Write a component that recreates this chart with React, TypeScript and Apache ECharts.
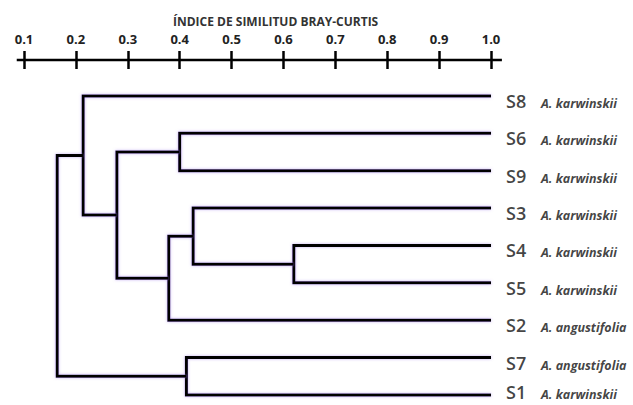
import React, { useEffect, useRef } from "react";
import * as echarts from "echarts";

const leaves = ["S8", "S6", "S9", "S3", "S4", "S5", "S2", "S7", "S1"];
const species = [
  "A. karwinskii",
  "A. karwinskii",
  "A. karwinskii",
  "A. karwinskii",
  "A. karwinskii",
  "A. karwinskii",
  "A. angustifolia",
  "A. angustifolia",
  "A. karwinskii",
];
// linkage: clusters 0..8 are leaves; merge k creates cluster 9+k
const mergeA = [1, 4, 3, 11, 9, 0, 7, 14];
const mergeB = [2, 5, 10, 6, 12, 13, 8, 15];
const mergeHeight = [0.4, 0.62, 0.426, 0.379, 0.279, 0.214, 0.413, 0.164];
const tickValues = [0.1, 1.0];
const axisTitle = "ÍNDICE DE SIMILITUD BRAY-CURTIS";

const Y_MIN = -0.963;
const Y_MAX = 8.134;

export default function App() {
  const ref = useRef<HTMLDivElement>(null);
  useEffect(() => {
    if (!ref.current) return;
    const chart = echarts.init(ref.current, null, { renderer: "svg" });

    const nodeX: number[] = leaves.map(() => 1.0);
    const nodeY: number[] = leaves.map((_, i) => i);
    const linesData: any[] = [];
    mergeA.forEach((a, k) => {
      const b = mergeB[k];
      const h = mergeHeight[k];
      linesData.push({
        coords: [
          [nodeX[a], nodeY[a]],
          [h, nodeY[a]],
          [h, nodeY[b]],
          [nodeX[b], nodeY[b]],
        ],
      });
      nodeX.push(h);
      nodeY.push((nodeY[a] + nodeY[b]) / 2);
    });

    const font = "'Open Sans', 'Noto Sans', sans-serif";
    const baseAxis = {
      type: "value",
      position: "top",
      min: tickValues[0],
      max: tickValues[1],
      interval: 0.1,
      splitLine: { show: false },
      axisLine: { show: false, onZero: false },
    };

    chart.setOption({
      animation: false,
      backgroundColor: "#fff",
      title: {
        text: axisTitle,
        left: 168,
        top: 10,
        textStyle: {
          fontFamily: font,
          fontSize: 12,
          fontWeight: "bold",
          color: "#333",
        },
      },
      grid: { left: 24, right: 142, top: 60, height: 340 },
      xAxis: [
        {
          ...baseAxis,
          axisTick: { show: true, length: 9, lineStyle: { color: "#000", width: 2.5 } },
          axisLabel: {
            margin: 15,
            fontFamily: font,
            fontSize: 13,
            fontWeight: "bold",
            color: "#222",
            formatter: (v: number) => v.toFixed(1),
          },
        },
        {
          ...baseAxis,
          axisTick: { show: true, inside: true, length: 9, lineStyle: { color: "#000", width: 2.5 } },
          axisLabel: { show: false },
        },
      ],
      yAxis: { type: "value", inverse: true, min: Y_MIN, max: Y_MAX, show: false },
      series: [
        {
          type: "lines",
          coordinateSystem: "cartesian2d",
          polyline: true,
          clip: false,
          lineStyle: { color: "#000", width: 2.5, opacity: 1 },
          data: [{ coords: [[0.086, Y_MIN], [1.021, Y_MIN]] }],
        },
        {
          type: "lines",
          coordinateSystem: "cartesian2d",
          polyline: true,
          clip: false,
          lineStyle: {
            color: "#000",
            width: 3,
            opacity: 1,
            shadowColor: "rgba(150,110,235,0.55)",
            shadowBlur: 3,
          },
          data: linesData,
        },
        {
          type: "scatter",
          symbolSize: 0,
          clip: false,
          data: leaves.map((l, i) => ({
            value: [1.0, i],
            name: l,
            label: { offset: [0, i === leaves.length - 1 ? -4 : 4] },
          })),
          label: {
            show: true,
            position: "right",
            distance: 15,
            formatter: (p: any) => `{s|${leaves[p.dataIndex]}}{sp|${species[p.dataIndex]}}`,
            rich: {
              s: {
                fontFamily: font,
                fontSize: 18,
                fontWeight: 600,
                color: "#111",
                width: 35,
                verticalAlign: "bottom",
                lineHeight: 20,
              },
              sp: {
                fontFamily: font,
                fontSize: 12.5,
                fontStyle: "italic",
                fontWeight: "bold",
                color: "#111",
                verticalAlign: "bottom",
                lineHeight: 19,
              },
            },
          },
        },
      ],
    });
    return () => chart.dispose();
  }, []);
  return (
    <div
      ref={ref}
      style={{ position: "fixed", left: 0, top: 0, width: 633, height: 405 }}
    />
  );
}
